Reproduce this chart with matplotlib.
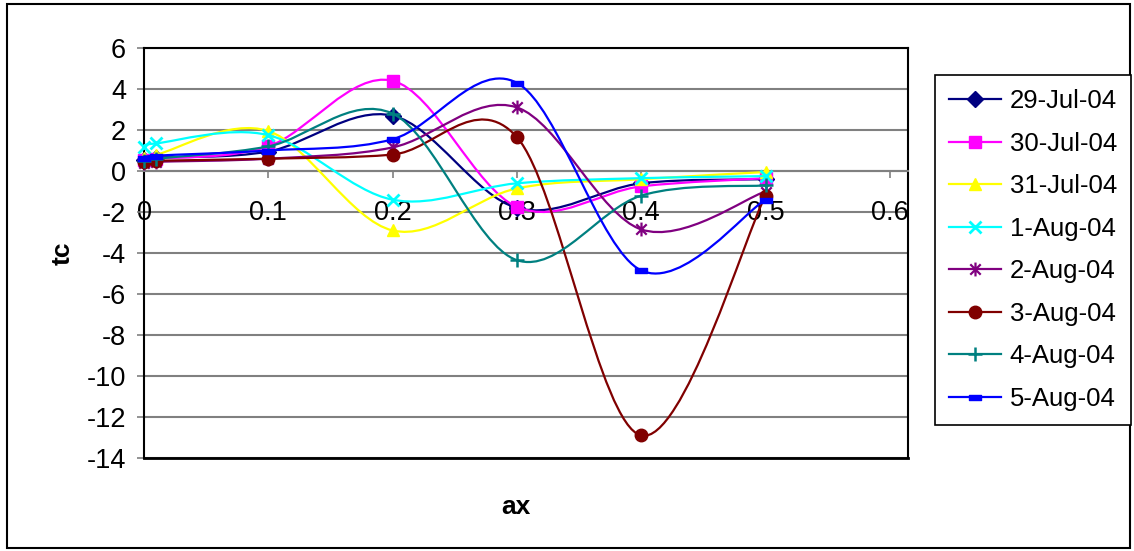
import numpy as np
import matplotlib
matplotlib.use("Agg")
import matplotlib.pyplot as plt
from matplotlib.path import Path
from matplotlib.patches import PathPatch, Rectangle
from matplotlib.lines import Line2D

plt.rcParams['font.family'] = ['Liberation Sans', 'DejaVu Sans']

# ---- data ----
ax_values = [0, 0.01, 0.1, 0.2, 0.3, 0.4, 0.5]
series_names = ["29-Jul-04", "30-Jul-04", "31-Jul-04", "1-Aug-04",
                "2-Aug-04", "3-Aug-04", "4-Aug-04", "5-Aug-04"]
tc_29jul = [0.55, 0.65, 0.95, 2.7, -1.8, -0.6, -0.4]
tc_30jul = [0.55, 0.6, 1.2, 4.4, -1.75, -0.75, -0.35]
tc_31jul = [0.65, 0.8, 1.95, -2.9, -0.85, -0.4, -0.05]
tc_1aug = [1.15, 1.35, 1.75, -1.4, -0.6, -0.35, -0.25]
tc_2aug = [0.4, 0.45, 0.6, 1.15, 3.1, -2.85, -1.0]
tc_3aug = [0.45, 0.5, 0.6, 0.8, 1.65, -12.9, -1.2]
tc_4aug = [0.5, 0.6, 1.2, 2.8, -4.35, -1.2, -0.7]
tc_5aug = [0.65, 0.75, 1.0, 1.55, 4.3, -4.85, -1.4]
all_series = [tc_29jul, tc_30jul, tc_31jul, tc_1aug, tc_2aug, tc_3aug, tc_4aug, tc_5aug]

x_ticks = [0, 0.1, 0.2, 0.3, 0.4, 0.5, 0.6]
x_ticklabels = ["0", "0.1", "0.2", "0.3", "0.4", "0.5", "0.6"]
y_ticks = [6, 4, 2, 0, -2, -4, -6, -8, -10, -12, -14]
y_ticklabels = ["6", "4", "2", "0", "-2", "-4", "-6", "-8", "-10", "-12", "-14"]

# ---- styles ----
colors = ["#000080", "#FF00FF", "#FFFF00", "#00FFFF", "#800080", "#800000", "#008080", "#0000FF"]
star = Path([(0, -1), (0, 1), (-0.75, -0.75), (0.75, 0.75), (-0.75, 0.75), (0.75, -0.75)],
            [Path.MOVETO, Path.LINETO, Path.MOVETO, Path.LINETO, Path.MOVETO, Path.LINETO])
bar = Path([(-1, -0.45), (1, -0.45), (1, 0.45), (-1, 0.45), (-1, -0.45)],
           [Path.MOVETO, Path.LINETO, Path.LINETO, Path.LINETO, Path.CLOSEPOLY])
markers = ["D", "s", "^", "x", star, "o", "+", bar]
msizes = [8, 8, 9, 9, 10, 9, 10, 8]
mews = [1, 1, 1, 2, 1.6, 1, 1.8, 1]


def smooth_path(xs, ys):
    pts = np.column_stack([xs, ys]).astype(float)
    verts = [pts[0]]
    codes = [Path.MOVETO]
    n = len(pts)
    for i in range(n - 1):
        p0 = pts[i - 1] if i > 0 else pts[i]
        p1 = pts[i]
        p2 = pts[i + 1]
        p3 = pts[i + 2] if i + 2 < n else pts[i + 1]
        c1 = p1 + (p2 - p0) / 6.0
        c2 = p2 - (p3 - p1) / 6.0
        verts += [c1, c2, p2]
        codes += [Path.CURVE4] * 3
    return Path(verts, codes)


W, H = 1134, 551
fig = plt.figure(figsize=(W / 100, H / 100), dpi=100)
L, R, T, B = 144, 908, 48, 458
ax = fig.add_axes([L / W, 1 - B / H, (R - L) / W, (B - T) / H])

ax.set_xlim(0, (R - L) / 1243.0)
ax.set_ylim(-14, 6)

for k, (ys, c, m, ms, mew) in enumerate(zip(all_series, colors, markers, msizes, mews)):
    patch = PathPatch(smooth_path(ax_values, ys), facecolor='none', edgecolor=c,
                      lw=1.6, zorder=3 + k * 0.1)
    ax.add_patch(patch)
    ax.plot(ax_values, ys, ls='none', marker=m, ms=ms, color=c, mec=c, mfc=c,
            mew=mew, zorder=3.05 + k * 0.1, clip_on=False)

# grid
for yv in y_ticks:
    ax.axhline(yv, color='#808080', lw=1.5, zorder=1)

ax.set_yticks(y_ticks)
ax.set_yticklabels(y_ticklabels)
ax.set_xticks(x_ticks)
ax.set_xticklabels(x_ticklabels)

ax.spines['bottom'].set_position(('data', 0))
ax.spines['bottom'].set_color('#808080')
ax.spines['bottom'].set_linewidth(1.5)
for s in ['left', 'top', 'right']:
    ax.spines[s].set_color('black')
    ax.spines[s].set_linewidth(1.5)
ax.axhline(-14, color='black', lw=2, clip_on=False, zorder=2)

ax.tick_params(axis='x', direction='out', length=5, width=1.2, color='#808080',
               labelsize=19.5, pad=16)
ax.tick_params(axis='y', direction='out', length=5, width=1.2, color='#808080',
               labelsize=19.5, pad=8)

ax.text(-0.107, 0.5, "tc", transform=ax.transAxes, rotation=90, ha='center', va='center',
        fontsize=19, fontweight='bold')
ax.text(0.487, -0.12, "ax", transform=ax.transAxes, ha='center', va='center',
        fontsize=19, fontweight='bold')

handles = [Line2D([], [], color=c, lw=1.6, marker=m, ms=ms, mew=mew, mec=c, mfc=c)
           for c, m, ms, mew in zip(colors, markers, msizes, mews)]
leg = fig.legend(handles, series_names, loc='upper left',
                 bbox_to_anchor=(935 / W, 1 - 75 / H), fontsize=18.5,
                 frameon=True, fancybox=False, edgecolor='black', framealpha=1,
                 handlelength=2.0, handletextpad=0.35, labelspacing=0.72,
                 borderpad=0.55, borderaxespad=0)
leg.get_frame().set_linewidth(1.2)

fig.patches.append(Rectangle((7 / W, 1 - 548 / H), (1130 - 7) / W, (548 - 4) / H,
                             transform=fig.transFigure, fill=False, edgecolor='black',
                             lw=1.5))

fig.savefig("out.png", dpi=100, facecolor='white')
